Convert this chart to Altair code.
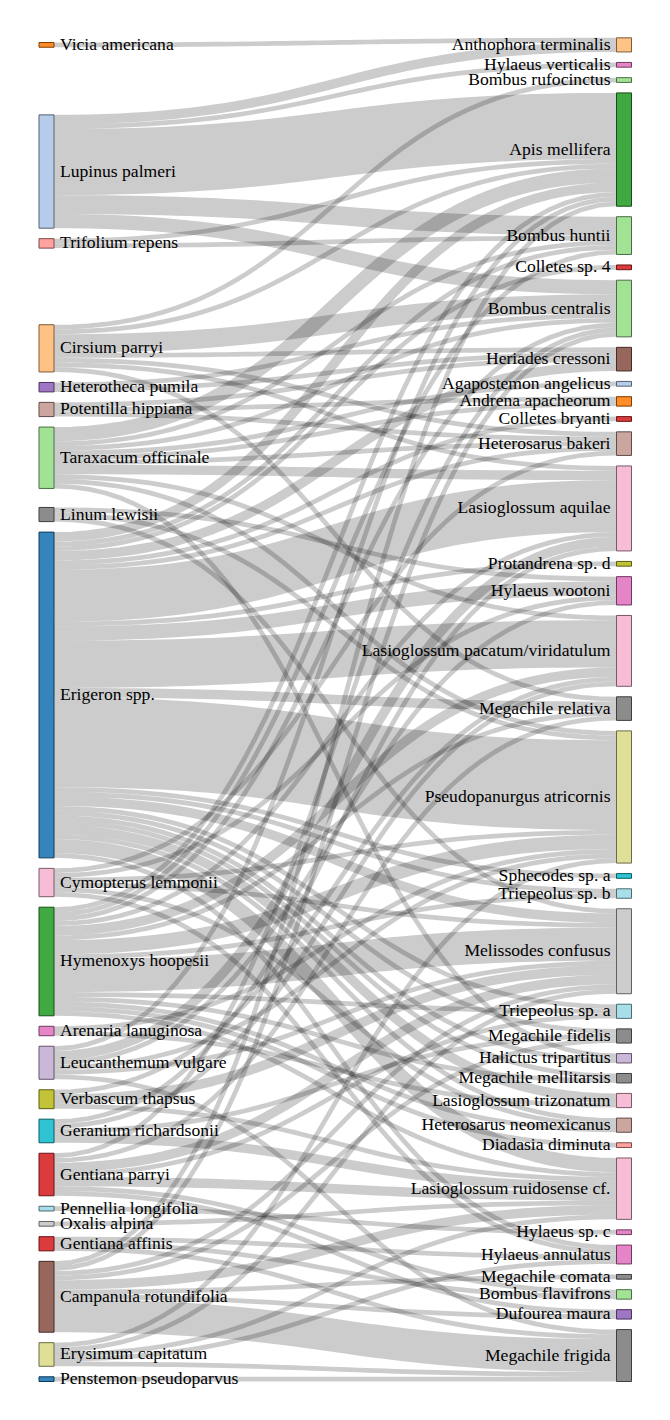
import altair as alt
import pandas as pd
import numpy as np

# ---------------- data ----------------
plants = ["Vicia americana", "Lupinus palmeri", "Trifolium repens", "Cirsium parryi",
          "Heterotheca pumila", "Potentilla hippiana", "Taraxacum officinale", "Linum lewisii",
          "Erigeron spp.", "Cymopterus lemmonii", "Hymenoxys hoopesii", "Arenaria lanuginosa",
          "Leucanthemum vulgare", "Verbascum thapsus", "Geranium richardsonii", "Gentiana parryi",
          "Pennellia longifolia", "Oxalis alpina", "Gentiana affinis", "Campanula rotundifolia",
          "Erysimum capitatum", "Penstemon pseudoparvus"]

bees = ["Anthophora terminalis", "Hylaeus verticalis", "Bombus rufocinctus", "Apis mellifera",
        "Bombus huntii", "Colletes sp. 4", "Bombus centralis", "Heriades cressoni",
        "Agapostemon angelicus", "Andrena apacheorum", "Colletes bryanti", "Heterosarus bakeri",
        "Lasioglossum aquilae", "Protandrena sp. d", "Hylaeus wootoni",
        "Lasioglossum pacatum/viridatulum", "Megachile relativa", "Pseudopanurgus atricornis",
        "Sphecodes sp. a", "Triepeolus sp. b", "Melissodes confusus", "Triepeolus sp. a",
        "Megachile fidelis", "Halictus tripartitus", "Megachile mellitarsis",
        "Lasioglossum trizonatum", "Heterosarus neomexicanus", "Diadasia diminuta",
        "Lasioglossum ruidosense cf.", "Hylaeus sp. c", "Hylaeus annulatus", "Megachile comata",
        "Bombus flavifrons", "Dufourea maura", "Megachile frigida"]

# number of links leaving each plant (same order as plants)
links_per_plant = [1, 5, 2, 7, 2, 3, 10, 3, 23, 6, 14, 2, 6, 3, 4, 7, 1, 1, 3, 8, 5, 1]

link_bee = [
    # Vicia
    "Anthophora terminalis",
    # Lupinus
    "Anthophora terminalis", "Hylaeus verticalis", "Apis mellifera", "Bombus huntii",
    "Bombus centralis",
    # Trifolium
    "Apis mellifera", "Bombus huntii",
    # Cirsium
    "Bombus rufocinctus", "Apis mellifera", "Bombus centralis", "Heriades cressoni",
    "Heterosarus bakeri", "Lasioglossum aquilae", "Megachile relativa",
    # Heterotheca
    "Bombus centralis", "Heriades cressoni",
    # Potentilla
    "Heriades cressoni", "Andrena apacheorum", "Heterosarus bakeri",
    # Taraxacum
    "Apis mellifera", "Bombus huntii", "Bombus centralis", "Agapostemon angelicus",
    "Andrena apacheorum", "Heterosarus bakeri", "Lasioglossum aquilae",
    "Lasioglossum pacatum/viridatulum", "Pseudopanurgus atricornis", "Halictus tripartitus",
    # Linum
    "Hylaeus wootoni", "Pseudopanurgus atricornis", "Melissodes confusus",
    # Erigeron
    "Apis mellifera", "Bombus huntii", "Colletes sp. 4", "Heriades cressoni", "Colletes bryanti",
    "Heterosarus bakeri", "Lasioglossum aquilae", "Protandrena sp. d", "Hylaeus wootoni",
    "Lasioglossum pacatum/viridatulum", "Megachile relativa", "Pseudopanurgus atricornis",
    "Sphecodes sp. a", "Triepeolus sp. b", "Melissodes confusus", "Triepeolus sp. a",
    "Megachile fidelis", "Halictus tripartitus", "Megachile mellitarsis", "Lasioglossum trizonatum",
    "Heterosarus neomexicanus", "Lasioglossum ruidosense cf.", "Hylaeus annulatus",
    # Cymopterus
    "Heterosarus bakeri", "Hylaeus wootoni", "Pseudopanurgus atricornis", "Melissodes confusus",
    "Heterosarus neomexicanus", "Hylaeus annulatus",
    # Hymenoxys
    "Apis mellifera", "Bombus huntii", "Bombus centralis", "Heterosarus neomexicanus",
    "Lasioglossum aquilae", "Lasioglossum pacatum/viridatulum", "Megachile relativa",
    "Pseudopanurgus atricornis", "Triepeolus sp. b", "Melissodes confusus", "Triepeolus sp. a",
    "Megachile mellitarsis", "Diadasia diminuta", "Lasioglossum ruidosense cf.",
    # Arenaria
    "Pseudopanurgus atricornis", "Lasioglossum trizonatum",
    # Leucanthemum
    "Apis mellifera", "Lasioglossum aquilae", "Hylaeus wootoni", "Pseudopanurgus atricornis",
    "Melissodes confusus", "Megachile frigida",
    # Verbascum
    "Lasioglossum pacatum/viridatulum", "Melissodes confusus", "Lasioglossum ruidosense cf.",
    # Geranium
    "Lasioglossum aquilae", "Lasioglossum pacatum/viridatulum", "Megachile fidelis",
    "Lasioglossum ruidosense cf.",
    # Gentiana parryi
    "Bombus centralis", "Megachile relativa", "Melissodes confusus", "Triepeolus sp. a",
    "Lasioglossum ruidosense cf.", "Bombus flavifrons", "Dufourea maura",
    # Pennellia
    "Hylaeus sp. c",
    # Oxalis
    "Lasioglossum ruidosense cf.",
    # Gentiana affinis
    "Hylaeus annulatus", "Bombus flavifrons", "Megachile frigida",
    # Campanula
    "Apis mellifera", "Bombus centralis", "Melissodes confusus", "Megachile fidelis",
    "Lasioglossum ruidosense cf.", "Megachile comata", "Dufourea maura", "Megachile frigida",
    # Erysimum
    "Pseudopanurgus atricornis", "Melissodes confusus", "Lasioglossum ruidosense cf.",
    "Hylaeus annulatus", "Megachile frigida",
    # Penstemon
    "Megachile frigida",
]
link_visits = [
    1,
    2, 1, 14, 4, 3,
    1, 1,
    1, 1, 4, 1, 1, 1, 1,
    1, 1,
    1, 1, 1,
    3, 1, 1, 1, 1, 1, 2, 1, 1, 1,
    1, 1, 1,
    2, 1, 1, 2, 1, 1, 11, 1, 3, 10, 2, 19, 1, 1, 2, 1, 1, 1, 1, 2, 1, 3, 1,
    1, 1, 1, 1, 1, 1,
    1, 1, 1, 1, 1, 2, 1, 3, 1, 7, 1, 1, 1, 1,
    1, 1,
    1, 2, 1, 1, 1, 1,
    1, 2, 1,
    1, 1, 1, 2,
    1, 1, 2, 1, 2, 1, 1,
    1,
    1,
    1, 1, 1,
    1, 1, 1, 1, 2, 1, 1, 7,
    1, 1, 1, 1, 1,
    1,
]
link_plant = [p for p, n in zip(plants, links_per_plant) for _ in range(n)]
assert len(link_plant) == len(link_bee) == len(link_visits)

genus_order = ["Erigeron", "Lupinus", "Vicia", "Cirsium", "Hymenoxys", "Taraxacum", "Gentiana",
               "Trifolium", "Heterotheca", "Leucanthemum", "Campanula", "Potentilla", "Arenaria",
               "Cymopterus", "Linum", "Oxalis", "Verbascum", "Erysimum", "Geranium", "Pennellia",
               "Penstemon", "Agapostemon", "Andrena", "Anthophora", "Apis", "Bombus", "Colletes",
               "Diadasia", "Dufourea", "Halictus", "Heriades", "Heterosarus", "Hylaeus",
               "Lasioglossum", "Megachile", "Melissodes", "Protandrena", "Pseudopanurgus",
               "Sphecodes", "Triepeolus"]
category20 = ["#1f77b4", "#aec7e8", "#ff7f0e", "#ffbb78", "#2ca02c", "#98df8a", "#d62728",
              "#ff9896", "#9467bd", "#c5b0d5", "#8c564b", "#c49c94", "#e377c2", "#f7b6d2",
              "#7f7f7f", "#c7c7c7", "#bcbd22", "#dbdb8d", "#17becf", "#9edae5"]

# ---------------- sankey layout (classic d3 sankey plugin, fixed node order) ----------------
W, HGT = 654, 1400
TOP, BOTTOM = 29.8, 1373.5
PAD = 10.5
NODE_W = 15
X_LEFT, X_RIGHT = 31.0, 608.5

nodes = {}
for name in plants:
    nodes[name] = {"name": name, "col": 0, "x": X_LEFT, "src": [], "tgt": []}
for name in bees:
    nodes[name] = {"name": name, "col": 1, "x": X_RIGHT, "src": [], "tgt": []}
links = []
for s, t, v in zip(link_plant, link_bee, link_visits):
    l = {"s": s, "t": t, "v": v}
    links.append(l)
    nodes[s]["src"].append(l)
    nodes[t]["tgt"].append(l)
for n in nodes.values():
    n["value"] = max(sum(l["v"] for l in n["src"]), sum(l["v"] for l in n["tgt"]))

cols = [[nodes[p] for p in plants], [nodes[b] for b in bees]]
H = BOTTOM - TOP
ky = min((H - (len(c) - 1) * PAD) / sum(n["value"] for n in c) for c in cols)
for c in cols:
    for i, n in enumerate(c):
        n["y"] = float(i)
        n["dy"] = n["value"] * ky
for l in links:
    l["dy"] = l["v"] * ky


def center(n):
    return n["y"] + n["dy"] / 2


def resolve():
    for c in cols:
        y0 = 0.0
        for n in c:
            d = y0 - n["y"]
            if d > 0:
                n["y"] += d
            y0 = n["y"] + n["dy"] + PAD
        d = y0 - PAD - H
        if d > 0:
            n = c[-1]
            n["y"] -= d
            y0 = n["y"]
            for n in reversed(c[:-1]):
                d = n["y"] + n["dy"] + PAD - y0
                if d > 0:
                    n["y"] -= d
                y0 = n["y"]


resolve()
alpha = 1.0
for _ in range(32):
    alpha *= 0.99
    for n in cols[0]:
        if n["src"]:
            yy = sum(center(nodes[l["t"]]) * l["v"] for l in n["src"]) / sum(l["v"] for l in n["src"])
            n["y"] += (yy - center(n)) * alpha
    resolve()
    for n in cols[1]:
        if n["tgt"]:
            yy = sum(center(nodes[l["s"]]) * l["v"] for l in n["tgt"]) / sum(l["v"] for l in n["tgt"])
            n["y"] += (yy - center(n)) * alpha
    resolve()

for n in nodes.values():
    n["y"] += TOP
for n in nodes.values():
    n["src"].sort(key=lambda l: nodes[l["t"]]["y"])
    n["tgt"].sort(key=lambda l: nodes[l["s"]]["y"])
    sy = 0.0
    for l in n["src"]:
        l["sy"] = sy
        sy += l["dy"]
    ty = 0.0
    for l in n["tgt"]:
        l["ty"] = ty
        ty += l["dy"]

# link curves (cubic bezier, curvature 0.5)
rows = []
ts = np.linspace(0, 1, 48)
for i, l in enumerate(links):
    s, t = nodes[l["s"]], nodes[l["t"]]
    x0 = s["x"] + NODE_W
    x1 = t["x"]
    xm = (x0 + x1) / 2
    y0 = s["y"] + l["sy"] + l["dy"] / 2
    y1 = t["y"] + l["ty"] + l["dy"] / 2
    for k, tt in enumerate(ts):
        a, b, c_, d = (1 - tt) ** 3, 3 * (1 - tt) ** 2 * tt, 3 * (1 - tt) * tt ** 2, tt ** 3
        rows.append({"id": i, "k": k,
                     "x": a * x0 + (b + c_) * xm + d * x1,
                     "y": (a + b) * y0 + (c_ + d) * y1,
                     "w": max(1.0, l["dy"])})
link_df = pd.DataFrame(rows)


def darker(hexc, k=2):
    f = 0.7 ** k
    r, g, b = (int(hexc[i:i + 2], 16) for i in (1, 3, 5))
    return "#%02x%02x%02x" % (round(r * f), round(g * f), round(b * f))


node_rows = []
for n in nodes.values():
    genus = n["name"].split(" ")[0]
    col = category20[genus_order.index(genus) % 20]
    left = n["col"] == 0
    node_rows.append({"name": n["name"], "x0": n["x"], "x1": n["x"] + NODE_W,
                      "y0": n["y"], "y1": n["y"] + n["dy"], "yc": n["y"] + n["dy"] / 2,
                      "fill": col, "stroke": darker(col),
                      "tx": n["x"] + NODE_W + 6 if left else n["x"] - 6,
                      "side": "left" if left else "right"})
node_df = pd.DataFrame(node_rows)

xs = alt.Scale(domain=[0, W])
ys = alt.Scale(domain=[0, HGT], reverse=True)

link_layer = alt.Chart(link_df).mark_line(
    stroke="#000", strokeOpacity=0.2, strokeCap="butt", strokeJoin="round"
).encode(
    x=alt.X("x:Q", scale=xs, axis=None),
    y=alt.Y("y:Q", scale=ys, axis=None),
    detail="id:N",
    order="k:Q",
    strokeWidth=alt.StrokeWidth("w:Q", scale=None),
)

rect_layer = alt.Chart(node_df).mark_rect(fillOpacity=0.9, strokeWidth=1).encode(
    x=alt.X("x0:Q", scale=xs, axis=None), x2="x1:Q",
    y=alt.Y("y0:Q", scale=ys, axis=None), y2="y1:Q",
    fill=alt.Fill("fill:N", scale=None),
    stroke=alt.Stroke("stroke:N", scale=None),
)

text_common = dict(font="Liberation Serif", fontSize=17.6, color="#000", baseline="middle")
left_text = alt.Chart(node_df[node_df.side == "left"]).mark_text(align="left", **text_common).encode(
    x=alt.X("tx:Q", scale=xs, axis=None), y=alt.Y("yc:Q", scale=ys, axis=None), text="name:N")
right_text = alt.Chart(node_df[node_df.side == "right"]).mark_text(align="right", **text_common).encode(
    x=alt.X("tx:Q", scale=xs, axis=None), y=alt.Y("yc:Q", scale=ys, axis=None), text="name:N")

chart = alt.layer(link_layer, rect_layer, left_text, right_text).properties(
    width=W, height=HGT, padding=0, autosize=alt.AutoSizeParams(type="none")
).configure_view(stroke=None)

chart.save("out.html", embed_options={"renderer": "svg", "actions": False})
